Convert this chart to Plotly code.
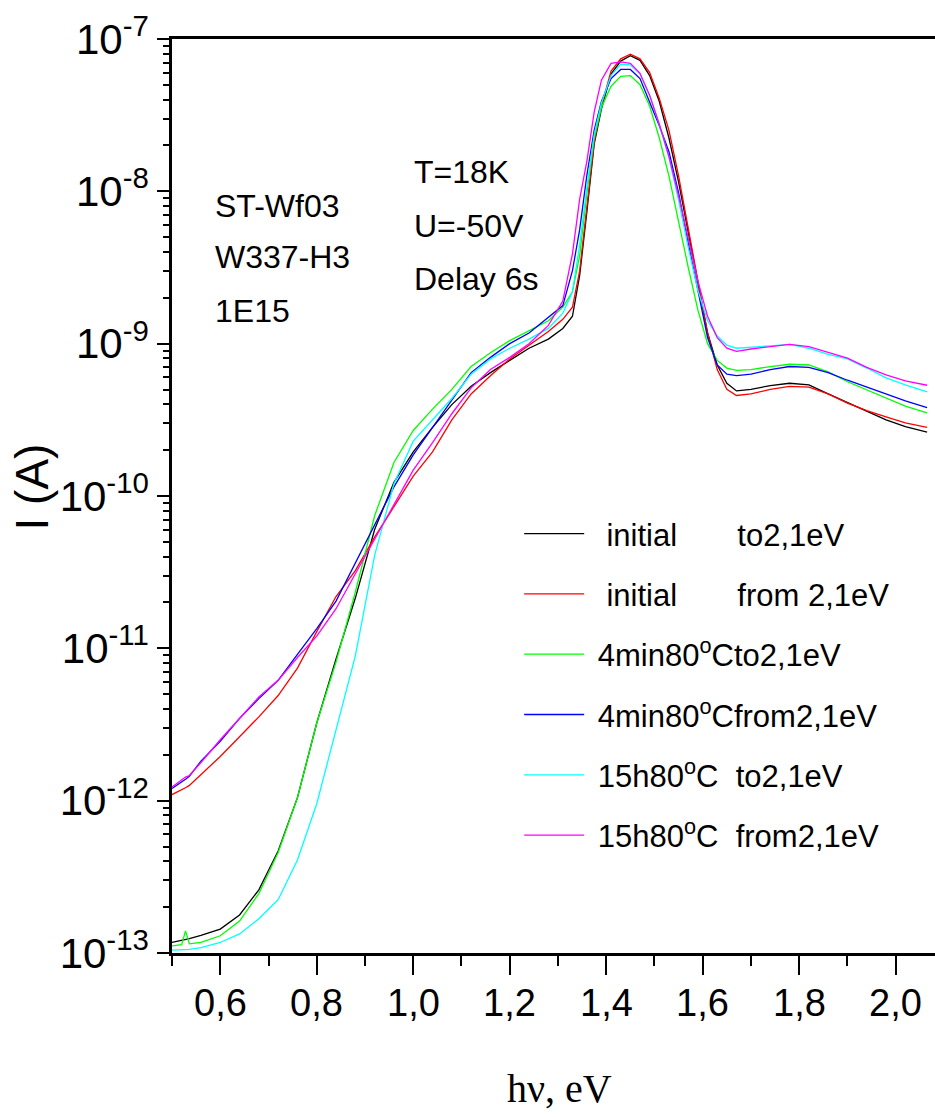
import numpy as np
import plotly.graph_objects as go

# Photon energy grid (eV)
energy_ev = [0.50, 0.52, 0.528, 0.536, 0.56, 0.60, 0.64, 0.68, 0.72, 0.76, 0.80,
             0.84, 0.88, 0.92, 0.96, 1.00, 1.04, 1.08, 1.12, 1.16, 1.20, 1.24,
             1.28, 1.31, 1.33, 1.345, 1.36, 1.375, 1.39, 1.41, 1.43, 1.45, 1.47,
             1.49, 1.51, 1.53, 1.55, 1.57, 1.59, 1.61, 1.63, 1.65, 1.67, 1.70,
             1.74, 1.78, 1.82, 1.86, 1.90, 1.94, 1.98, 2.02, 2.065]

# log10 of photocurrent I (A) for each measurement
log_i_initial_to = [-12.931, -12.918, -12.912, -12.905, -12.885, -12.843, -12.75, -12.585, -12.33, -11.98, -11.49,
                    -11.07, -10.67, -10.22, -9.91, -9.71, -9.55, -9.40, -9.28, -9.19, -9.11, -9.03,
                    -8.97, -8.90, -8.82, -8.55, -8.13, -7.69, -7.46, -7.23, -7.145, -7.11, -7.14,
                    -7.24, -7.41, -7.65, -7.94, -8.28, -8.60, -8.93, -9.14, -9.26, -9.31, -9.30,
                    -9.275, -9.26, -9.27, -9.33, -9.385, -9.44, -9.50, -9.545, -9.58]
log_i_initial_from = [-11.96, -11.93, -11.915, -11.90, -11.83, -11.71, -11.58, -11.45, -11.31, -11.13, -10.89,
                      -10.66, -10.49, -10.27, -10.07, -9.87, -9.71, -9.50, -9.33, -9.21, -9.10, -9.01,
                      -8.92, -8.84, -8.76, -8.52, -8.10, -7.68, -7.44, -7.21, -7.13, -7.10, -7.13,
                      -7.22, -7.39, -7.60, -7.90, -8.24, -8.58, -8.93, -9.17, -9.30, -9.34, -9.33,
                      -9.30, -9.28, -9.285, -9.33, -9.39, -9.44, -9.48, -9.52, -9.55]
log_i_4min_to = [-12.953, -12.945, -12.855, -12.94, -12.93, -12.887, -12.79, -12.61, -12.34, -11.98, -11.49,
                 -11.09, -10.63, -10.13, -9.78, -9.57, -9.43, -9.30, -9.15, -9.06, -8.98, -8.915,
                 -8.85, -8.76, -8.66, -8.42, -8.01, -7.65, -7.45, -7.31, -7.245, -7.24, -7.30,
                 -7.44, -7.65, -7.90, -8.21, -8.50, -8.78, -9.00, -9.11, -9.16, -9.175, -9.17,
                 -9.15, -9.135, -9.14, -9.185, -9.25, -9.305, -9.355, -9.41, -9.455]
log_i_4min_from = [-11.92, -11.88, -11.86, -11.84, -11.74, -11.61, -11.46, -11.33, -11.21, -11.04, -10.87,
                   -10.69, -10.44, -10.19, -9.94, -9.73, -9.55, -9.37, -9.19, -9.09, -9.00, -8.93,
                   -8.83, -8.75, -8.52, -8.25, -7.89, -7.60, -7.41, -7.26, -7.20, -7.20, -7.26,
                   -7.41, -7.57, -7.74, -8.01, -8.34, -8.66, -8.96, -9.14, -9.20, -9.21, -9.20,
                   -9.17, -9.15, -9.155, -9.19, -9.24, -9.285, -9.33, -9.375, -9.42]
log_i_15h_to = [-12.981, -12.978, -12.977, -12.976, -12.965, -12.931, -12.875, -12.775, -12.65, -12.39, -12.02,
                -11.53, -11.05, -10.39, -9.92, -9.64, -9.50, -9.36, -9.20, -9.10, -9.03, -8.97,
                -8.90, -8.80, -8.66, -8.35, -7.97, -7.63, -7.42, -7.24, -7.165, -7.17, -7.23,
                -7.37, -7.56, -7.78, -8.06, -8.37, -8.65, -8.85, -8.95, -9.01, -9.03, -9.025,
                -9.015, -9.005, -9.03, -9.07, -9.10, -9.16, -9.225, -9.27, -9.317]
log_i_15h_from = [-11.91, -11.86, -11.845, -11.835, -11.75, -11.60, -11.46, -11.32, -11.21, -11.06, -10.92,
                  -10.74, -10.51, -10.28, -10.05, -9.83, -9.65, -9.46, -9.29, -9.17, -9.09, -9.00,
                  -8.88, -8.72, -8.41, -8.05, -7.80, -7.48, -7.27, -7.16, -7.15, -7.16, -7.225,
                  -7.37, -7.56, -7.77, -8.03, -8.31, -8.59, -8.82, -8.96, -9.03, -9.05, -9.035,
                  -9.02, -9.005, -9.02, -9.06, -9.095, -9.155, -9.205, -9.245, -9.273]

NB = "\u00a0"
series_names = [
    NB * 2 + "initial" + NB * 7 + "to2,1eV",
    NB * 2 + "initial" + NB * 7 + "from 2,1eV",
    NB + "4min80<sup>o</sup>Cto2,1eV",
    NB + "4min80<sup>o</sup>Cfrom2,1eV",
    NB + "15h80<sup>o</sup>C" + NB * 2 + "to2,1eV",
    NB + "15h80<sup>o</sup>C" + NB * 2 + "from2,1eV",
]
series_values = [log_i_initial_to, log_i_initial_from, log_i_4min_to,
                 log_i_4min_from, log_i_15h_to, log_i_15h_from]
series_colors = ["#000000", "#ff0000", "#00ff00", "#0000ff", "#00ffff", "#ff00ff"]

x_ticks = [0.6, 0.8, 1.0, 1.2, 1.4, 1.6, 1.8, 2.0]
x_ticktext = ["0,6", "0,8", "1,0", "1,2", "1,4", "1,6", "1,8", "2,0"]
x_minor = [0.5, 0.7, 0.9, 1.1, 1.3, 1.5, 1.7, 1.9]
y_exponents = [-13, -12, -11, -10, -9, -8, -7]

SANS = "Liberation Sans, Arial, sans-serif"
SERIF = "Liberation Serif, Times New Roman, serif"

fig = go.Figure()
for name, logs, color in zip(series_names, series_values, series_colors):
    fig.add_trace(go.Scatter(
        x=energy_ev, y=10.0 ** np.array(logs), mode="lines", name=name,
        legendgroup=name, line=dict(color=color, width=1.3),
    ))

y_ticks = [10.0 ** e for e in y_exponents]
y_ticktext = ["10<sup>%d</sup>" % e for e in y_exponents]
y_minor = [k * 10.0 ** e for e in y_exponents[:-1] for k in range(2, 10)]

fig.update_layout(
    width=935, height=1117,
    margin=dict(l=172, r=0, t=39, b=164),
    paper_bgcolor="white", plot_bgcolor="white",
    font=dict(family=SANS, color="black"),
    showlegend=True,
    legend=dict(
        x=0.455, y=0.488, xanchor="left", yanchor="top",
        bgcolor="rgba(0,0,0,0)", font=dict(family=SANS, size=31),
        tracegroupgap=17, itemwidth=60,
    ),
    xaxis=dict(
        range=[0.5, 2.0814], showline=True, linecolor="black", linewidth=2.5,
        mirror=True, showgrid=False, zeroline=False,
        tickmode="array", tickvals=x_ticks, showticklabels=False,
        ticks="outside", ticklen=19, tickwidth=2, tickcolor="black",
        minor=dict(tickmode="array", tickvals=x_minor, ticks="outside",
                   ticklen=10, tickwidth=2, tickcolor="black", showgrid=False),
    ),
    yaxis=dict(
        type="log", range=[-13, -7], showline=True, linecolor="black", linewidth=2.5,
        showgrid=False, zeroline=False,
        tickmode="array", tickvals=y_ticks, ticktext=y_ticktext,
        ticks="outside", ticklen=12, tickwidth=2, tickcolor="black",
        tickfont=dict(family=SANS, size=42),
        minor=dict(tickmode="array", tickvals=y_minor, ticks="outside",
                   ticklen=6, tickwidth=2, tickcolor="black", showgrid=False),
    ),
)

# Energy tick labels (decimal comma) under the major ticks
for xv, txt in zip(x_ticks, x_ticktext):
    fig.add_annotation(x=xv, y=-0.0547, xref="x", yref="paper", text=txt,
                       showarrow=False, xanchor="center", yanchor="middle",
                       font=dict(family=SANS, size=38))

# Axis titles
fig.add_annotation(x=0.508, y=-0.148, xref="paper", yref="paper", text="h\u03bd, eV",
                   showarrow=False, xanchor="center", yanchor="middle",
                   font=dict(family=SERIF, size=40))
fig.add_annotation(x=-0.184, y=0.51, xref="paper", yref="paper", text="I (A)",
                   textangle=-90, showarrow=False, xanchor="center", yanchor="middle",
                   font=dict(family=SANS, size=46))

# Sample and measurement conditions
labels_left = ["ST-Wf03", "W337-H3", "1E15"]
labels_left_y = [0.817, 0.762, 0.702]
labels_right = ["T=18K", "U=-50V", "Delay 6s"]
labels_right_y = [0.854, 0.795, 0.737]
for txt, yy in zip(labels_left, labels_left_y):
    fig.add_annotation(x=0.0537, y=yy, xref="paper", yref="paper", text=txt,
                       showarrow=False, xanchor="left", yanchor="middle",
                       font=dict(family=SANS, size=32))
for txt, yy in zip(labels_right, labels_right_y):
    fig.add_annotation(x=0.3146, y=yy, xref="paper", yref="paper", text=txt,
                       showarrow=False, xanchor="left", yanchor="middle",
                       font=dict(family=SANS, size=32))

fig.write_html("out.html")
